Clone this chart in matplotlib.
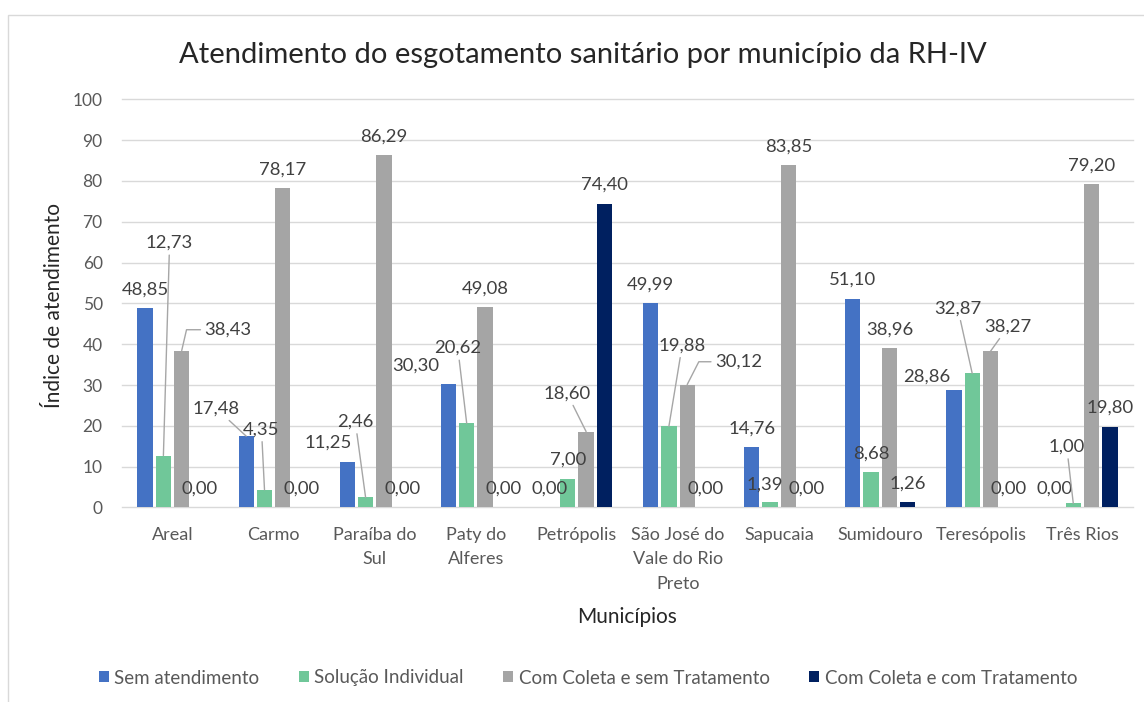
import matplotlib
matplotlib.use("Agg")
import matplotlib.pyplot as plt
from matplotlib.patches import Rectangle
import numpy as np

# ---- data -------------------------------------------------------------
municipios = ["Areal", "Carmo", "Paraíba do\nSul", "Paty do\nAlferes", "Petrópolis",
              "São José do\nVale do Rio\nPreto", "Sapucaia", "Sumidouro",
              "Teresópolis", "Três Rios"]
series_names = ["Sem atendimento", "Solução Individual",
                "Com Coleta e sem Tratamento", "Com Coleta e com Tratamento"]
sem_atendimento = [48.85, 17.48, 11.25, 30.30, 0.00, 49.99, 14.76, 51.10, 28.86, 0.00]
solucao_individual = [12.73, 4.35, 2.46, 20.62, 7.00, 19.88, 1.39, 8.68, 32.87, 1.00]
coleta_sem_tratamento = [38.43, 78.17, 86.29, 49.08, 18.60, 30.12, 83.85, 38.96, 38.27, 79.20]
coleta_com_tratamento = [0.00, 0.00, 0.00, 0.00, 74.40, 0.00, 0.00, 1.26, 0.00, 19.80]
y_ticks = [0, 10, 20, 30, 40, 50, 60, 70, 80, 90, 100]

title = "Atendimento do esgotamento sanitário por município da RH-IV"
x_title = "Municípios"
y_title = "Índice de atendimento"

# ---- styling ------------------------------------------------------------
colors = ["#4472C4", "#70C799", "#A5A5A5", "#002060"]
grid_color = "#D9D9D9"
leader_color = "#A6A6A6"
plt.rcParams["font.family"] = ["Lato", "DejaVu Sans"]

# Data-label placement (pixel offset of the label centre from the bar top)
# and the kind of leader line drawn back to the bar.
default_label = (0.0, 20.5, None)
label_layout = {
    (1, 0): (6.2, 214.3, "line"),
    (2, 0): (46.5, 22.6, ("elbow", 77)),
    (0, 1): (-29.7, 29.1, "line"),
    (1, 1): (-3.0, 61.9, "line"),
    (0, 2): (-18.7, 20.6, None),
    (1, 2): (-10.3, 77.5, "line"),
    (0, 3): (-32.5, 20.1, None),
    (1, 3): (-8.9, 77.0, "line"),
    (2, 4): (-19.0, 39.9, "line"),
    (1, 5): (13.3, 82.6, "line"),
    (2, 5): (51.5, 24.5, ("elbow", 63)),
    (1, 6): (-5.2, 18.5, None),
    (0, 8): (-26.7, 14.7, None),
    (1, 8): (-14.4, 66.6, "line"),
    (2, 8): (17.6, 26.3, "line"),
    (1, 9): (-6.6, 58.4, "line"),
}
DIGIT_HALF = 6.7  # half the digit height in pixels (centre -> baseline)

# ---- figure -------------------------------------------------------------
fig = plt.figure(figsize=(11.44, 7.02), dpi=100)
ax = fig.add_axes([0.10664, 0.27707, 0.88374, 0.58148])

series = [sem_atendimento, solucao_individual, coleta_sem_tratamento, coleta_com_tratamento]
x = np.arange(len(municipios))
slot = 0.181
bar_w = 0.151
offsets = (np.arange(len(series)) - 1.5) * slot

handles = []
for s, (vals, name, col) in enumerate(zip(series, series_names, colors)):
    bars = ax.bar(x + offsets[s], vals, width=bar_w, color=col, label=name, zorder=3)
    handles.append(bars)
    for i, v in enumerate(vals):
        dx, dy, style = label_layout.get((s, i), default_label)
        txt = f"{v:.2f}".replace(".", ",")
        xb = x[i] + offsets[s]
        kw = {}
        if style == "line":
            kw["arrowprops"] = dict(arrowstyle="-", color=leader_color, lw=1.0,
                                    shrinkA=1, shrinkB=0)
        elif isinstance(style, tuple):
            kw["arrowprops"] = dict(arrowstyle="-", color=leader_color, lw=1.0,
                                    shrinkA=1, shrinkB=0, relpos=(0.0, 0.5),
                                    connectionstyle=f"angle,angleA=0,angleB={style[1]},rad=0")
        ax.annotate(txt, xy=(xb, v), xytext=(dx, dy - DIGIT_HALF),
                    textcoords="offset pixels", ha="center", va="baseline",
                    fontsize=13.3, color="#404040", zorder=5, **kw)

ax.set_xlim(-0.5, len(municipios) - 0.5)
ax.set_ylim(0, 100)
ax.set_yticks(y_ticks)
ax.set_xticks(x)
ax.set_xticklabels(municipios, linespacing=1.65)
ax.tick_params(axis="y", length=0, pad=13.9, labelsize=12.5, labelcolor="#595959")
ax.tick_params(axis="x", length=0, pad=14, labelsize=13, labelcolor="#595959")

ax.set_axisbelow(True)
ax.yaxis.grid(True, color=grid_color, lw=1.0)
for gl in ax.get_ygridlines():
    gl.set_clip_on(False)
for side in ["top", "right", "left", "bottom"]:
    ax.spines[side].set_visible(False)

ax.set_ylabel(y_title, fontsize=15, color="#262626", va="center")
ax.yaxis.set_label_coords(-0.0673, 0.496)
ax.set_xlabel(x_title, fontsize=15, color="#262626", va="center")
ax.xaxis.set_label_coords(0.4992, -0.268)

fig.text(0.5096, 1 - 63.3 / 702, title, ha="center", va="baseline",
         fontsize=21, color="#262626")

fig.legend(handles=handles, labels=series_names, loc="center",
           bbox_to_anchor=(0.514, 1 - 678 / 702), ncol=4, frameon=False,
           fontsize=13.5, handlelength=0.53, handleheight=0.53,
           handletextpad=0.3, columnspacing=2.1, labelcolor="#595959")

# chart-area border
fig.add_artist(Rectangle((8 / 1144, -0.5), 2.0, 0.5 + 1 - 15 / 702,
                         transform=fig.transFigure, fill=False,
                         edgecolor=grid_color, lw=1.0))

fig.savefig("out.png", dpi=100)
